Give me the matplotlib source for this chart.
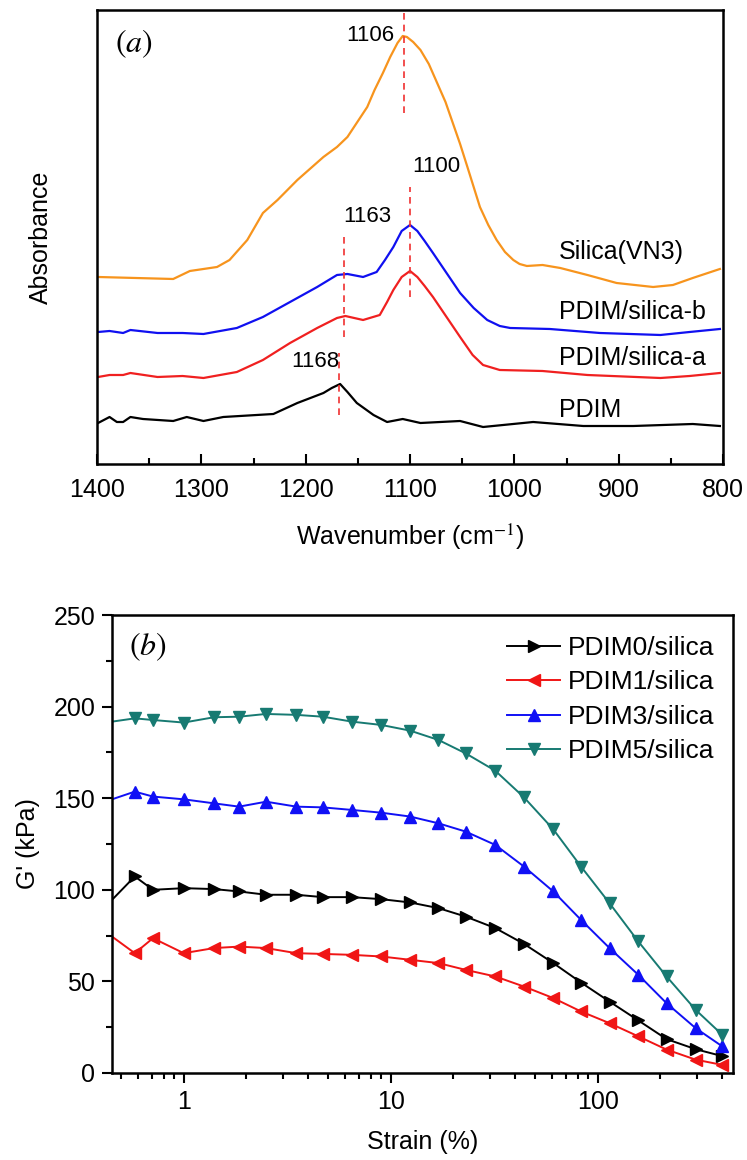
import matplotlib
matplotlib.use("Agg")
import matplotlib.pyplot as plt
from matplotlib.ticker import MultipleLocator, LogLocator, NullFormatter, FixedLocator

plt.rcParams['font.family'] = ['Liberation Sans', 'DejaVu Sans']
plt.rcParams['mathtext.fontset'] = 'stix'

# ---- (a) FTIR spectra: wavenumber (cm-1) and offset absorbance (a.u.)
wn_silica = [1399, 1327, 1311, 1285, 1273, 1256, 1241, 1227, 1208, 1183, 1170, 1160, 1141,
             1134, 1126, 1119, 1112, 1107, 1103, 1097, 1090, 1082, 1074, 1066, 1059, 1052,
             1045, 1039, 1033, 1025, 1017, 1009, 1001, 995, 988, 973,
             956, 930, 902, 867, 848, 829, 803]
ab_silica = [1.87, 1.85, 1.93, 1.97, 2.04, 2.24, 2.51, 2.64, 2.84, 3.07, 3.17, 3.27, 3.57,
             3.74, 3.91, 4.07, 4.21, 4.28, 4.27, 4.22, 4.14, 4.0, 3.81, 3.62, 3.41, 3.2,
             2.97, 2.77, 2.57, 2.39, 2.24, 2.12, 2.04, 2.0, 1.98, 1.99,
             1.96, 1.89, 1.81, 1.77, 1.79, 1.86, 1.95]

wn_b = [1399, 1388, 1375, 1368, 1342, 1318, 1298, 1266, 1241, 1215, 1189, 1170, 1160,
        1145, 1132, 1124, 1116, 1108, 1100, 1093, 1086, 1078, 1065, 1052, 1039, 1026,
        1014, 1004, 966, 918, 860, 832, 803]
ab_b = [1.32, 1.33, 1.31, 1.34, 1.31, 1.31, 1.30, 1.36, 1.47, 1.62, 1.77, 1.89, 1.90,
        1.87, 1.92, 2.04, 2.17, 2.33, 2.39, 2.33, 2.23, 2.11, 1.91, 1.71, 1.56, 1.44,
        1.38, 1.36, 1.35, 1.31, 1.29, 1.32, 1.35]

wn_a = [1399, 1388, 1375, 1368, 1342, 1318, 1298, 1266, 1241, 1215, 1189, 1170, 1162,
        1145, 1129, 1122, 1116, 1108, 1100, 1093, 1086, 1078, 1065, 1052, 1040, 1030,
        1014, 973, 930, 860, 832, 803]
ab_a = [0.87, 0.89, 0.89, 0.91, 0.87, 0.88, 0.86, 0.92, 1.04, 1.21, 1.36, 1.46, 1.48,
        1.44, 1.49, 1.62, 1.74, 1.87, 1.93, 1.87, 1.78, 1.67, 1.47, 1.27, 1.09, 0.99,
        0.94, 0.93, 0.89, 0.86, 0.88, 0.91]

wn_pdim = [1399, 1388, 1381, 1375, 1368, 1356, 1327, 1314, 1298, 1279, 1231, 1208, 1183,
           1175, 1167, 1160, 1151, 1135, 1122, 1107, 1090, 1052, 1030, 982, 934, 886,
           829, 803]
ab_pdim = [0.41, 0.47, 0.42, 0.42, 0.47, 0.45, 0.43, 0.47, 0.43, 0.47, 0.50, 0.61, 0.71,
           0.76, 0.80, 0.72, 0.61, 0.49, 0.42, 0.45, 0.41, 0.43, 0.37, 0.42, 0.38, 0.38,
           0.40, 0.38]

spec_labels = ['Silica(VN3)', 'PDIM/silica-b', 'PDIM/silica-a', 'PDIM']
peaks = [1106, 1100, 1163, 1168]

# ---- (b) strain sweep
strain = [0.45, 0.58, 0.71, 1.0, 1.4, 1.85, 2.5, 3.5, 4.7, 6.5, 9.0, 12.4, 17, 23, 32,
          44, 61, 83, 114, 157, 215, 297, 400]
g_pdim0 = [94.5, 107.3, 100, 100.9, 100.4, 99.1, 97.3, 97.3, 96, 96, 94.9, 93.1, 90,
           85.4, 79.1, 70.5, 60, 49.4, 39, 28.7, 18.5, 13, 9.2]
g_pdim1 = [74.5, 65.4, 73.6, 65.4, 68.2, 69, 68.2, 65.4, 65, 64.5, 63.6, 61.8, 60,
           56.3, 52.7, 47.2, 40.9, 33.6, 27.2, 20, 12.8, 7.3, 4.4]
g_pdim3 = [149.4, 153.6, 150.9, 149.4, 147.2, 145.4, 148.1, 145.4, 145, 143.6, 142.1,
           140, 136.3, 131.8, 124.5, 112.7, 99.1, 83.6, 68.2, 53.6, 38.1, 24.5, 14.5]
g_pdim5 = [191.8, 193.6, 192.7, 191.3, 194.2, 194.5, 196, 195.5, 194.5, 191.8, 190,
           186.9, 181.8, 174.5, 165, 150.5, 133, 112.7, 92.7, 71.8, 52.7, 34.5, 20.8]
g_labels = ['PDIM0/silica', 'PDIM1/silica', 'PDIM3/silica', 'PDIM5/silica']

fig = plt.figure(figsize=(7.47, 11.6), dpi=100)
ax1 = fig.add_axes([0.1299, 0.6, 0.838, 0.3914])
ax2 = fig.add_axes([0.1499, 0.075, 0.8313, 0.3948])

# ---------------- panel (a)
ax1.plot(wn_silica, ab_silica, color='#f7941d', lw=1.6)
ax1.plot(wn_b, ab_b, color='#1010f0', lw=1.6)
ax1.plot(wn_a, ab_a, color='#f02020', lw=1.6)
ax1.plot(wn_pdim, ab_pdim, color='black', lw=1.6)

dash_spans = [(3.51, 4.51), (1.67, 2.77), (1.27, 2.27), (0.49, 1.11)]
for p, (y0, y1) in zip(peaks, dash_spans):
    ax1.plot([p, p], [y0, y1], color='#f03030', lw=1.2, ls=(0, (4, 3)))

ax1.text(1115, 4.28, str(peaks[0]), fontsize=16, ha='right', va='center')
ax1.text(1098, 2.97, str(peaks[1]), fontsize=16, ha='left', va='center')
ax1.text(1141, 2.47, str(peaks[2]), fontsize=16, ha='center', va='center')
ax1.text(1191, 1.02, str(peaks[3]), fontsize=16, ha='center', va='center')

for lab, y in zip(spec_labels, [2.12, 1.52, 1.06, 0.54]):
    ax1.text(957, y, lab, fontsize=18, ha='left', va='center')

ax1.text(0.028, 0.925, r'$(a)$', transform=ax1.transAxes, fontsize=23,
         ha='left', va='center')

ax1.set_xlim(1400, 800)
ax1.set_ylim(0, 4.54)
ax1.xaxis.set_major_locator(MultipleLocator(100))
ax1.xaxis.set_minor_locator(MultipleLocator(50))
ax1.tick_params(axis='x', which='major', direction='in', length=7, width=1.5,
                labelsize=18, pad=10)
ax1.tick_params(axis='x', which='minor', direction='in', length=4, width=1.5)
ax1.set_yticks([])
ax1.set_xlabel('Wavenumber (cm$^{-1}$)', fontsize=18, labelpad=14)
ax1.set_ylabel('Absorbance', fontsize=18, labelpad=32)
for s in ax1.spines.values():
    s.set_linewidth(1.8)

# ---------------- panel (b)
ms = 9
ax2.plot(strain, g_pdim0, color='black', lw=1.4, marker='>', ms=ms,
         markevery=slice(1, None), label=g_labels[0])
ax2.plot(strain, g_pdim1, color='#f01515', lw=1.4, marker='<', ms=ms,
         markevery=slice(1, None), label=g_labels[1])
ax2.plot(strain, g_pdim3, color='#1010f5', lw=1.4, marker='^', ms=ms,
         markevery=slice(1, None), label=g_labels[2])
ax2.plot(strain, g_pdim5, color='#177a72', lw=1.4, marker='v', ms=ms,
         markevery=slice(1, None), label=g_labels[3])

ax2.set_xscale('log')
ax2.set_xlim(0.45, 450)
ax2.set_ylim(0, 250)
ax2.xaxis.set_major_locator(FixedLocator([1, 10, 100]))
ax2.set_xticklabels(['1', '10', '100'])
ax2.xaxis.set_minor_locator(LogLocator(base=10, subs=range(2, 10)))
ax2.xaxis.set_minor_formatter(NullFormatter())
ax2.yaxis.set_major_locator(MultipleLocator(50))
ax2.yaxis.set_minor_locator(MultipleLocator(25))
ax2.tick_params(which='major', direction='out', length=7, width=1.5, labelsize=18, pad=5)
ax2.tick_params(which='minor', direction='out', length=4, width=1.5)
ax2.set_xlabel('Strain (%)', fontsize=18, labelpad=12)
ax2.set_ylabel("G' (kPa)", fontsize=18, labelpad=10)
for s in ax2.spines.values():
    s.set_linewidth(1.8)

ax2.text(0.028, 0.93, r'$(b)$', transform=ax2.transAxes, fontsize=23,
         ha='left', va='center')
ax2.legend(loc='upper right', bbox_to_anchor=(1.0, 0.995), frameon=False, fontsize=19,
           handlelength=2.0, handletextpad=0.3, labelspacing=0.4, borderaxespad=0.3)

fig.savefig('out.png', dpi=100)
